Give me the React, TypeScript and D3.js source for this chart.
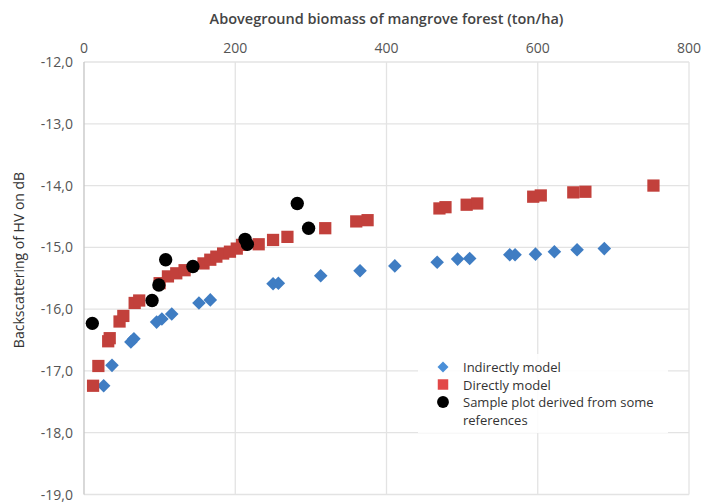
import React, { useEffect, useRef } from 'react';
import * as d3 from 'd3';

const indirectX = [26, 37, 62, 66, 96, 103, 116, 152, 167, 250, 257, 313, 365, 411, 467, 494, 510, 563, 570, 597, 622, 652, 688];
const indirectY = [-17.24, -16.91, -16.53, -16.48, -16.21, -16.16, -16.08, -15.9, -15.85, -15.59, -15.58, -15.46, -15.38, -15.3, -15.24, -15.19, -15.18, -15.12, -15.12, -15.11, -15.07, -15.04, -15.02];

const directX = [12, 19, 32, 34, 47, 52, 67, 73, 100, 111, 122, 133, 158, 167, 175, 184, 193, 202, 209, 231, 250, 269, 319, 360, 375, 470, 478, 506, 520, 594, 604, 647, 663, 753];
const directY = [-17.24, -16.92, -16.52, -16.47, -16.2, -16.11, -15.9, -15.86, -15.58, -15.47, -15.42, -15.37, -15.26, -15.2, -15.15, -15.1, -15.07, -15.02, -14.96, -14.95, -14.88, -14.83, -14.69, -14.58, -14.56, -14.37, -14.35, -14.31, -14.29, -14.18, -14.16, -14.11, -14.1, -14.0];

const sampleX = [11, 90, 99, 108, 144, 213, 216, 282, 297];
const sampleY = [-16.23, -15.86, -15.61, -15.2, -15.31, -14.87, -14.95, -14.29, -14.69];

const xTicks = [0, 200, 400, 600, 800];
const yTicks = [-12, -13, -14, -15, -16, -17, -18, -19];

const xTitle = 'Aboveground biomass of mangrove forest (ton/ha)';
const yTitle = 'Backscattering of HV on dB';
const legendLabels = [['Indirectly model'], ['Directly model'], ['Sample plot derived from some', 'references']];

const BLUE = '#3f7dc3';
const RED = '#c2403b';
const FONT = "'Open Sans', 'Noto Sans', sans-serif";

const App = () => {
  const svgRef = useRef(null);

  useEffect(() => {
    document.body.style.margin = '0';
    const svg = d3.select(svgRef.current);
    svg.selectAll('*').remove();

    const x = d3.scaleLinear().domain([0, 800]).range([84, 689]);
    const y = d3.scaleLinear().domain([-12, -19]).range([62, 494.5]);

    // grid
    const grid = svg.append('g');
    grid.selectAll('line.h')
      .data(yTicks)
      .join('line')
      .attr('x1', x(0)).attr('x2', x(800))
      .attr('y1', d => y(d)).attr('y2', d => y(d))
      .attr('stroke', '#e3e3e3').attr('stroke-width', 1.3);
    grid.selectAll('line.v')
      .data(xTicks.slice(1))
      .join('line')
      .attr('x1', d => x(d)).attr('x2', d => x(d))
      .attr('y1', y(-12)).attr('y2', y(-19))
      .attr('stroke', '#e3e3e3').attr('stroke-width', 1.3);
    svg.append('line')
      .attr('x1', x(0)).attr('x2', x(0))
      .attr('y1', y(-12)).attr('y2', y(-19))
      .attr('stroke', '#c4c4c4').attr('stroke-width', 1.3);

    // axis labels
    svg.append('g').selectAll('text')
      .data(xTicks)
      .join('text')
      .attr('x', d => x(d)).attr('y', 53)
      .attr('text-anchor', 'middle')
      .attr('font-family', FONT).attr('font-size', 14).attr('fill', '#555')
      .text(d => d);
    svg.append('g').selectAll('text')
      .data(yTicks)
      .join('text')
      .attr('x', 73).attr('y', d => y(d) + 5)
      .attr('text-anchor', 'end')
      .attr('font-family', FONT).attr('font-size', 14).attr('fill', '#555')
      .text(d => d3.format('.1f')(d).replace('.', ',').replace('−', '-'));

    svg.append('text')
      .attr('x', (x(0) + x(800)) / 2).attr('y', 24)
      .attr('text-anchor', 'middle')
      .attr('font-family', FONT).attr('font-size', 14.5).attr('font-weight', 600).attr('fill', '#444')
      .text(xTitle);
    svg.append('text')
      .attr('transform', `translate(24,260) rotate(-90)`)
      .attr('text-anchor', 'middle')
      .attr('font-family', FONT).attr('font-size', 14).attr('fill', '#333')
      .text(yTitle);

    const diamond = d3.symbol().type(d3.symbolSquare).size(92)();
    const square = d3.symbol().type(d3.symbolSquare).size(150)();
    const circle = d3.symbol().type(d3.symbolCircle).size(140)();

    svg.append('g').selectAll('path')
      .data(indirectX.map((v, i) => [v, indirectY[i]]))
      .join('path')
      .attr('d', diamond)
      .attr('transform', d => `translate(${x(d[0])},${y(d[1])}) rotate(45)`)
      .attr('fill', BLUE);

    svg.append('g').selectAll('path')
      .data(directX.map((v, i) => [v, directY[i]]))
      .join('path')
      .attr('d', square)
      .attr('transform', d => `translate(${x(d[0])},${y(d[1])})`)
      .attr('fill', RED);

    svg.append('g').selectAll('path')
      .data(sampleX.map((v, i) => [v, sampleY[i]]))
      .join('path')
      .attr('d', circle)
      .attr('transform', d => `translate(${x(d[0])},${y(d[1])})`)
      .attr('fill', '#000');

    // legend
    const lg = svg.append('g');
    lg.append('rect')
      .attr('x', 418).attr('y', 354).attr('width', 250).attr('height', 79)
      .attr('fill', '#fff').attr('fill-opacity', 0.88);
    const rowsY = [367, 384.5, 402];
    const legendSyms = [
      { d: d3.symbol().type(d3.symbolSquare).size(60)(), rot: 45, fill: '#4a8fd8' },
      { d: d3.symbol().type(d3.symbolSquare).size(110)(), rot: 0, fill: '#e24848' },
      { d: d3.symbol().type(d3.symbolCircle).size(110)(), rot: 0, fill: '#000' },
    ];
    legendSyms.forEach((s, i) => {
      lg.append('path')
        .attr('d', s.d)
        .attr('transform', `translate(443,${rowsY[i]}) rotate(${s.rot})`)
        .attr('fill', s.fill);
      legendLabels[i].forEach((t, j) => {
        lg.append('text')
          .attr('x', 463).attr('y', rowsY[i] + 5 + j * 18)
          .attr('font-family', FONT).attr('font-size', 13).attr('fill', '#333')
          .text(t);
      });
    });
  }, []);

  return <svg ref={svgRef} width={704} height={502} style={{ display: 'block', background: '#fff' }}></svg>;
};

export default App;
